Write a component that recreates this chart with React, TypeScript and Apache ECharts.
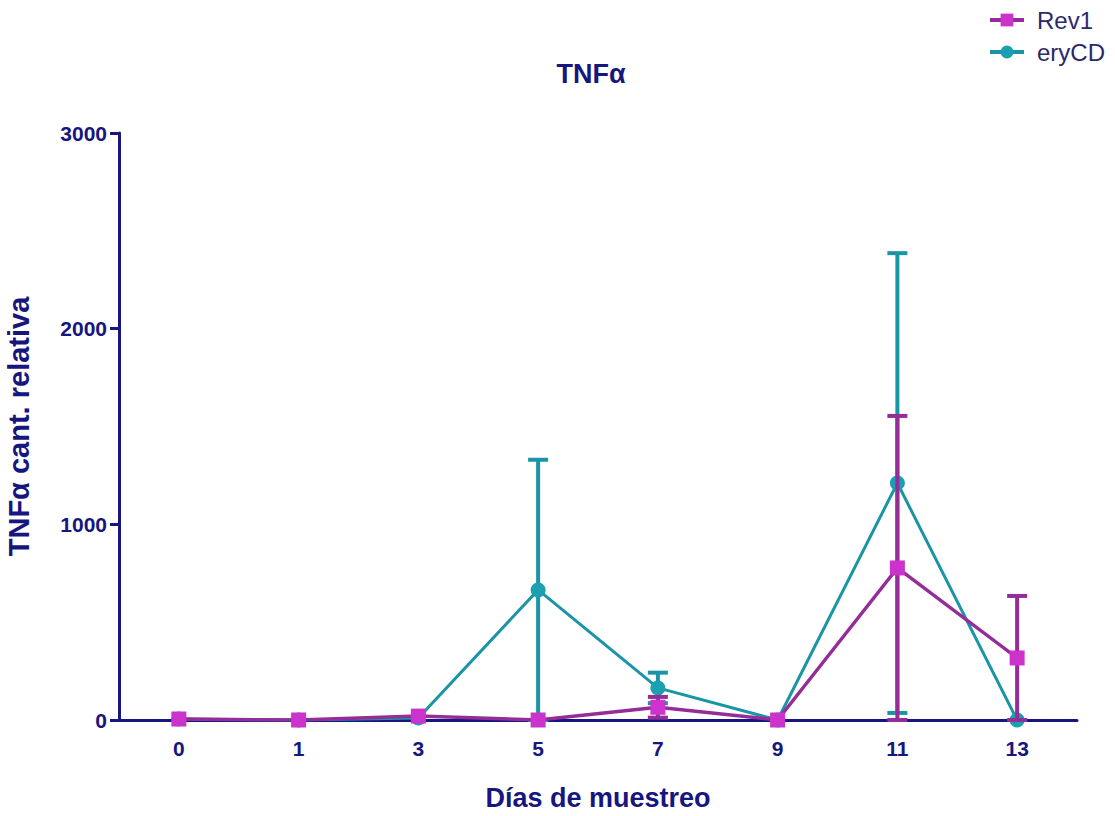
import React, { useEffect, useRef } from "react";
import * as echarts from "echarts";

const categories = ["0", "1", "3", "5", "7", "9", "11", "13"];
const rev1Mean = [5, 0, 20, 0, 65, 0, 777, 317];
const rev1Sd = [0, 0, 0, 0, 53, 0, 777, 317];
const eryMean = [5, 0, 10, 665, 164, 0, 1211, 0];
const erySd = [0, 0, 0, 665, 78, 0, 1175, 0];
const yTicks = [0, 1000, 2000, 3000];

const NAVY = "#16167e";
const REV_LINE = "#952d98";
const REV_MARK = "#cc33cc";
const ERY_LINE = "#1a95a6";
const ERY_MARK = "#1aa0b0";
const FONT = "'Liberation Sans Narrow', 'Liberation Sans', Arial, sans-serif";

function errData(mean: number[], sd: number[]) {
  return mean
    .map((m, i) => (sd[i] > 0 ? [i, Math.max(0, m - sd[i]), m + sd[i]] : null))
    .filter((d) => d !== null);
}

function errSeries(name: string, mean: number[], sd: number[], color: string, z: number) {
  return {
    type: "custom",
    name: name + "-err",
    z,
    silent: true,
    data: errData(mean, sd),
    renderItem: (params: any, api: any) => {
      const x = api.value(0);
      const lo = api.coord([x, api.value(1)]);
      const hi = api.coord([x, api.value(2)]);
      const half = 10;
      const st = { stroke: color, lineWidth: 4 };
      return {
        type: "group",
        children: [
          { type: "line", shape: { x1: hi[0], y1: hi[1], x2: lo[0], y2: lo[1] }, style: st },
          { type: "line", shape: { x1: hi[0] - half, y1: hi[1], x2: hi[0] + half, y2: hi[1] }, style: st },
          { type: "line", shape: { x1: lo[0] - half, y1: lo[1], x2: lo[0] + half, y2: lo[1] }, style: st },
        ],
      };
    },
  };
}

export default function App() {
  const ref = useRef<HTMLDivElement>(null);
  useEffect(() => {
    if (!ref.current) return;
    const chart = echarts.init(ref.current, null, { renderer: "svg" });
    chart.setOption({
      animation: false,
      backgroundColor: "#ffffff",
      title: {
        text: "TNFα",
        left: 586,
        top: 55,
        textAlign: "center",
        textStyle: { color: NAVY, fontSize: 27, fontWeight: "bold", fontFamily: FONT },
      },
      legend: {
        orient: "vertical",
        left: 983,
        top: 3,
        itemGap: 8,
        itemWidth: 34,
        itemHeight: 16,
        data: ["Rev1", "eryCD"],
        lineStyle: { width: 4 },
        textStyle: { color: "#2a2a6a", fontSize: 24, fontFamily: FONT, padding: [0, 0, 0, 8] },
      },
      grid: { left: 119, right: 38, top: 133, bottom: 96, containLabel: false, outerBoundsMode: "none" },
      xAxis: {
        type: "category",
        data: categories,
        boundaryGap: true,
        name: "Días de muestreo",
        nameLocation: "middle",
        nameGap: 64,
        nameTextStyle: { color: NAVY, fontSize: 27, fontWeight: "bold", fontFamily: FONT },
        axisLine: { lineStyle: { color: NAVY, width: 3 } },
        axisTick: { alignWithLabel: true, length: 9, lineStyle: { color: NAVY, width: 3 } },
        axisLabel: { color: NAVY, fontSize: 21, fontWeight: "bold", fontFamily: FONT, margin: 18 },
        splitLine: { show: false },
      },
      yAxis: {
        type: "value",
        min: 0,
        max: 3000,
        interval: 1000,
        name: "TNFα cant. relativa",
        nameLocation: "middle",
        nameGap: 86,
        nameTextStyle: { color: NAVY, fontSize: 29, fontWeight: "bold", fontFamily: FONT },
        axisLine: { show: true, lineStyle: { color: NAVY, width: 3 } },
        axisTick: { show: true, length: 9, lineStyle: { color: NAVY, width: 3 } },
        axisLabel: {
          color: NAVY,
          fontSize: 21,
          fontWeight: "bold",
          fontFamily: FONT,
          margin: 12,
          formatter: (v: number) => (yTicks.includes(v) ? String(v) : ""),
        },
        splitLine: { show: false },
      },
      series: [
        errSeries("eryCD", eryMean, erySd, ERY_LINE, 2),
        {
          name: "eryCD",
          type: "line",
          z: 3,
          data: eryMean,
          symbol: "circle",
          symbolSize: 15,
          lineStyle: { color: ERY_LINE, width: 3 },
          itemStyle: { color: ERY_MARK },
        },
        errSeries("Rev1", rev1Mean, rev1Sd, REV_LINE, 4),
        {
          name: "Rev1",
          type: "line",
          z: 5,
          data: rev1Mean,
          symbol: "rect",
          symbolSize: 15,
          lineStyle: { color: REV_LINE, width: 3.5 },
          itemStyle: { color: REV_MARK },
        },
      ],
    });
    return () => chart.dispose();
  }, []);
  return <div ref={ref} style={{ width: 1115, height: 816, position: "absolute", left: 0, top: 0 }} />;
}
